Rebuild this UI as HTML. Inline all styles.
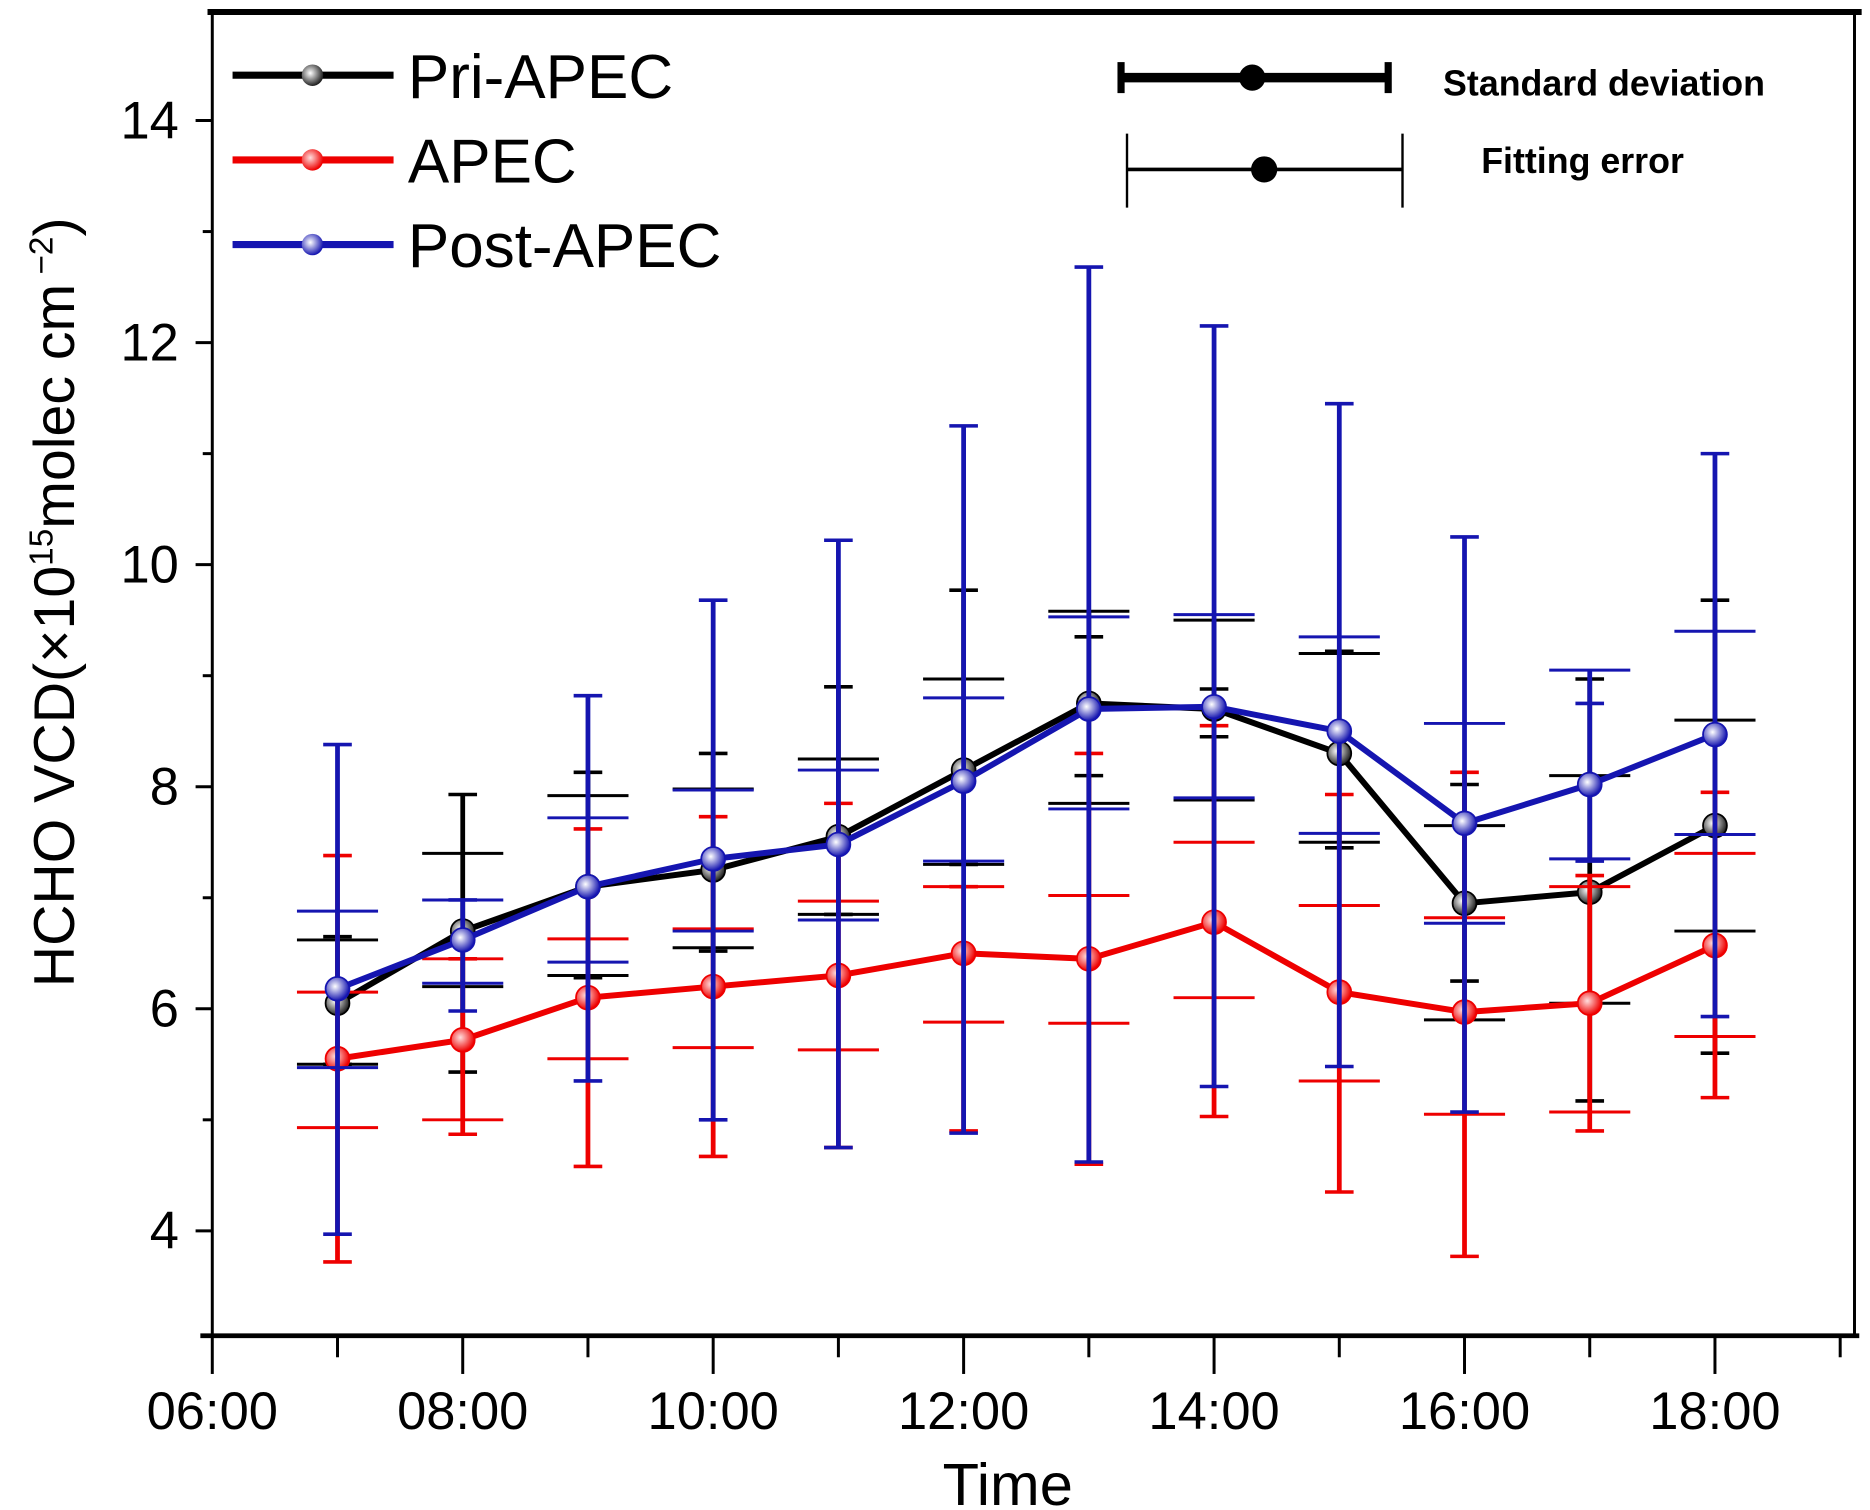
<!DOCTYPE html>
<html><head><meta charset="utf-8"><style>
html,body{margin:0;padding:0;background:#fff;}
svg{display:block;font-family:"Liberation Sans",Arial,sans-serif;}
</style></head><body>
<svg id="chart" width="1870" height="1510" viewBox="0 0 1568 1266" xmlns="http://www.w3.org/2000/svg">
<defs>
<radialGradient id="gk" cx="0.4" cy="0.4" r="0.6"><stop offset="0" stop-color="#fff"/><stop offset="1" stop-color="#222"/></radialGradient>
<radialGradient id="gr" cx="0.4" cy="0.4" r="0.6"><stop offset="0" stop-color="#fdd"/><stop offset="1" stop-color="#e00"/></radialGradient>
<radialGradient id="gb" cx="0.4" cy="0.4" r="0.6"><stop offset="0" stop-color="#fff"/><stop offset="1" stop-color="#1515b0"/></radialGradient>
</defs>
<g id="axes"></g>
<g id="marks"></g>
<g>
  <g>
    <line x1="195" y1="63" x2="330" y2="63" stroke="#000" stroke-width="6"/>
    <circle cx="262" cy="63" r="9" fill="url(#gk)"/>
    <text x="342" y="82" font-size="52">Pri-APEC</text>
  </g>
  <g>
    <line x1="195" y1="134" x2="330" y2="134" stroke="#e00" stroke-width="6"/>
    <circle cx="262" cy="134" r="9" fill="url(#gr)"/>
    <text x="342" y="153" font-size="52">APEC</text>
  </g>
  <g>
    <line x1="195" y1="205" x2="330" y2="205" stroke="#1515b0" stroke-width="6"/>
    <circle cx="262" cy="205" r="9" fill="url(#gb)"/>
    <text x="342" y="224" font-size="52">Post-APEC</text>
  </g>
  <g>
    <line x1="940" y1="65" x2="1164" y2="65" stroke="#000" stroke-width="8"/>
    <line x1="940" y1="52" x2="940" y2="78" stroke="#000" stroke-width="6"/>
    <line x1="1164" y1="52" x2="1164" y2="78" stroke="#000" stroke-width="6"/>
    <circle cx="1050" cy="65" r="11" fill="#000"/>
    <text x="1210" y="80" font-size="30" font-weight="bold">Standard deviation</text>
  </g>
  <g>
    <line x1="945" y1="142" x2="1176" y2="142" stroke="#000" stroke-width="3"/>
    <line x1="945" y1="112" x2="945" y2="174" stroke="#000" stroke-width="2"/>
    <line x1="1176" y1="112" x2="1176" y2="174" stroke="#000" stroke-width="2"/>
    <circle cx="1060" cy="142" r="11" fill="#000"/>
    <text x="1242" y="145" font-size="30" font-weight="bold">Fitting error</text>
  </g>
</g>
</svg>
<script>
const hours = [7,8,9,10,11,12,13,14,15,16,17,18];
const xTickLabels = ["06:00","08:00","10:00","12:00","14:00","16:00","18:00"];
const xTickHours = [6,8,10,12,14,16,18];
const yTicks = [4,6,8,10,12,14];
const priMean = [6.05,6.7,7.1,7.25,7.55,8.15,8.75,8.7,8.3,6.95,7.05,7.65];
const priSdLo = [5.5,5.43,6.28,6.52,6.85,7.3,8.1,8.45,7.45,6.25,5.17,5.6];
const priSdHi = [6.65,7.93,8.13,8.3,8.9,9.77,9.35,8.88,9.22,8.02,8.97,9.68];
const priFeLo = [5.5,6.2,6.3,6.55,6.85,7.3,7.85,7.88,7.5,5.9,6.05,6.7];
const priFeHi = [6.62,7.4,7.92,7.98,8.25,8.97,9.58,9.5,9.2,7.65,8.1,8.6];
const apecMean = [5.55,5.72,6.1,6.2,6.3,6.5,6.45,6.78,6.15,5.97,6.05,6.57];
const apecSdLo = [3.72,4.87,4.58,4.67,4.75,4.9,4.6,5.03,4.35,3.77,4.9,5.2];
const apecSdHi = [7.38,6.45,7.62,7.73,7.85,7.1,8.3,8.55,7.93,8.13,7.2,7.95];
const apecFeLo = [4.93,5.0,5.55,5.65,5.63,5.88,5.87,6.1,5.35,5.05,5.07,5.75];
const apecFeHi = [6.15,6.45,6.63,6.72,6.97,7.1,7.02,7.5,6.93,6.82,7.1,7.4];
const postMean = [6.18,6.62,7.1,7.35,7.48,8.05,8.7,8.72,8.5,7.67,8.02,8.47];
const postSdLo = [3.97,5.98,5.35,5.0,4.75,4.88,4.62,5.3,5.48,5.07,7.33,5.93];
const postSdHi = [8.38,6.98,8.82,9.68,10.22,11.25,12.68,12.15,11.45,10.25,8.75,11.0];
const postFeLo = [5.47,6.23,6.42,6.7,6.8,7.33,7.8,7.9,7.58,6.77,7.35,7.57];
const postFeHi = [6.88,6.98,7.72,7.97,8.15,8.8,9.53,9.55,9.35,8.57,9.05,9.4];

const NS="http://www.w3.org/2000/svg";
const X0=178, X1=1555, Y0=1120, YT=10;
const xs = h => 178 + (h-6)*105;
const ys = v => 1032 - (v-4)*93.1;
function mk(tag, attrs, parent){const e=document.createElementNS(NS,tag);for(const k in attrs)e.setAttribute(k,attrs[k]);parent.appendChild(e);return e;}
const axes=document.getElementById('axes'), marks=document.getElementById('marks');

let f=mk('rect',{x:X0,y:YT,width:X1-X0,height:Y0-YT,fill:'none',stroke:'#000','stroke-width':2.5},axes);


let tb=mk('line',{x1:X0-4,y1:YT,x2:X1+6,y2:YT,stroke:'#000','stroke-width':5},axes);


let bb=mk('line',{x1:X0-10,y1:Y0,x2:X1+4,y2:Y0,stroke:'#000','stroke-width':4},axes);


for(let h=6;h<=19;h++){
  const major=h%2===0;
  const t=mk('line',{x1:xs(h),y1:Y0,x2:xs(h),y2:Y0+(major?32:18),stroke:'#000','stroke-width':2.5},axes);
  
  
}
xTickHours.forEach((h,i)=>{
  const t=mk('text',{x:xs(h),y:Y0+78,'font-size':44,'text-anchor':'middle'},axes);
  t.textContent=xTickLabels[i];
  
  
});
let xt=mk('text',{x:845,y:1262,'font-size':50,'text-anchor':'middle'},axes);
xt.textContent='Time';


for(let v=3;v<=15;v++){
  const yy=ys(v); if(yy<YT+5||yy>Y0-5) continue;
  const major=v%2===0;
  const t=mk('line',{x1:X0,y1:yy,x2:X0-(major?14:8),y2:yy,stroke:'#000','stroke-width':2.5},axes);
  
  
}
yTicks.forEach(v=>{
  const t=mk('text',{x:150,y:ys(v)+15,'font-size':44,'text-anchor':'end'},axes);
  t.textContent=String(v);
  
  
});
let yt=mk('text',{transform:'translate(62,505) rotate(-90)','font-size':48,'text-anchor':'middle'},axes);
yt.innerHTML='HCHO VCD(×10<tspan dy="-18" font-size="28">15</tspan><tspan dy="18">molec cm</tspan><tspan dy="-18" font-size="28"> −2</tspan><tspan dy="18">)</tspan>';



function series(name,color,grad,mean,sdLo,sdHi,feLo,feHi){
  const g=mk('g',{},marks);
  
  
  hours.forEach((h,i)=>{
    const x=xs(h);
    const lo=Math.min(sdLo[i],feLo[i]), hi=Math.max(sdHi[i],feHi[i]);
    const v=mk('line',{x1:x,y1:ys(lo),x2:x,y2:ys(hi),stroke:color,'stroke-width':4},g);
    
    
    [sdLo[i],sdHi[i]].forEach(val=>{
      const c=mk('line',{x1:x-12,y1:ys(val),x2:x+12,y2:ys(val),stroke:color,'stroke-width':3},g);
      
      
    });
    [feLo[i],feHi[i]].forEach(val=>{
      const c=mk('line',{x1:x-34,y1:ys(val),x2:x+34,y2:ys(val),stroke:color,'stroke-width':2.5},g);
      
      
    });
  });
  const pts=hours.map((h,i)=>xs(h)+','+ys(mean[i])).join(' ');
  const pl=mk('polyline',{points:pts,fill:'none',stroke:color,'stroke-width':5},g);
  
  
  hours.forEach((h,i)=>{
    const c=mk('circle',{cx:xs(h),cy:ys(mean[i]),r:10,fill:'url(#'+grad+')',stroke:color,'stroke-width':1.5},g);
    
    
  });
}
series('pri-apec','#000','gk',priMean,priSdLo,priSdHi,priFeLo,priFeHi);
series('apec','#e00','gr',apecMean,apecSdLo,apecSdHi,apecFeLo,apecFeHi);
series('post-apec','#1515b0','gb',postMean,postSdLo,postSdHi,postFeLo,postFeHi);
</script>
</body></html>
